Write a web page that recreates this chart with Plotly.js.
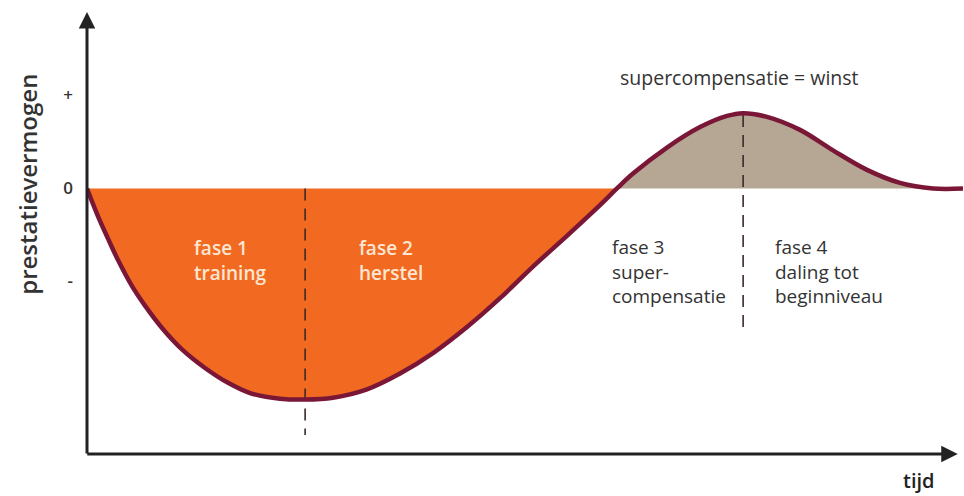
<!DOCTYPE html>
<html>
<head>
<meta charset="utf-8">
<script src="https://cdn.plot.ly/plotly-3.0.1.min.js"></script>
<style>html,body{margin:0;padding:0;background:#fff;}#chart{width:964px;height:496px;}</style>
</head>
<body>
<div id="chart"></div>
<script>
// Curve (time in arbitrary units, performance in units of the "+" tick)
const tijd      = [0, 1.26, 2.40, 3.54, 5.14, 6.62, 8.56, 10.84, 13.47, 16.10, 18.61, 22.03, 24.89, 28.08, 31.96, 35.73, 39.50, 43.38, 47.15, 50.91, 54.79, 58.56, 60.50, 62.33, 66.21, 69.98, 73.06, 74.89, 77.63, 81.39, 85.16, 89.04, 92.81, 96.58, 100];
const prestatie = [0, -0.30, -0.54, -0.77, -1.05, -1.26, -1.50, -1.73, -1.93, -2.09, -2.20, -2.26, -2.27, -2.25, -2.16, -1.99, -1.77, -1.49, -1.18, -0.84, -0.51, -0.18, 0, 0.16, 0.44, 0.66, 0.78, 0.81, 0.77, 0.63, 0.41, 0.20, 0.06, 0, 0];
const nulpunt = 60.50;              // where the curve crosses zero again
// Phase boundary dashed lines: x, top, bottom
const grensX    = [24.9, 74.9];
const grensTop  = [0, 0.79];
const grensBodem= [-2.65, -1.52];
// Tick labels
const tickWaarden = [-1, 0, 1];
const tickTeksten = ['-', '0', '+'];
// Phase labels
const faseTeksten = ['fase 1<br>training', 'fase 2<br>herstel', 'fase 3<br>super-<br>compensatie', 'fase 4<br>daling tot<br>beginniveau'];
const faseX = [12.0, 30.8, 59.7, 78.3];
const faseY = [-0.77, -0.77, -0.89, -0.89];

const oranjeX = [], oranjeY = [], beigeX = [], beigeY = [];
tijd.forEach((t, i) => {
  if (t <= nulpunt) { oranjeX.push(t); oranjeY.push(prestatie[i]); }
  if (t >= nulpunt) { beigeX.push(t); beigeY.push(prestatie[i]); }
});

const smooth = 1;
const traces = [
  {x: oranjeX, y: oranjeY, type: 'scatter', mode: 'lines', fill: 'tozeroy', fillcolor: '#f26a21',
   line: {width: 0, shape: 'spline', smoothing: smooth}, hoverinfo: 'skip'},
  {x: beigeX, y: beigeY, type: 'scatter', mode: 'lines', fill: 'tozeroy', fillcolor: '#b5a794',
   line: {width: 0, shape: 'spline', smoothing: smooth}, hoverinfo: 'skip'},
];
grensX.forEach((gx, i) => {
  traces.push({x: [gx, gx], y: [grensTop[i], grensBodem[i]], type: 'scatter', mode: 'lines',
    line: {color: '#3d2a2a', width: 1.6, dash: '12px,8px'}, hoverinfo: 'skip'});
});
traces.push({x: tijd, y: prestatie, type: 'scatter', mode: 'lines',
  line: {color: '#7b1736', width: 4.5, shape: 'spline', smoothing: smooth}, hoverinfo: 'skip'});

const fontFam = '"Open Sans", "Noto Sans", sans-serif';
const annotations = [];
faseTeksten.forEach((t, i) => {
  annotations.push({x: faseX[i], y: faseY[i], xref: 'x', yref: 'y', text: t, showarrow: false,
    xanchor: 'left', yanchor: 'middle', align: 'left',
    font: {family: fontFam, size: 19, weight: i < 2 ? 600 : 400, color: i < 2 ? '#fde6d2' : '#333333'}});
});
annotations.push({x: 60.6, y: 1.19, xref: 'x', yref: 'y', text: 'supercompensatie = winst', showarrow: false,
  xanchor: 'left', yanchor: 'middle', font: {family: fontFam, size: 19.5, color: '#333333'}});
annotations.push({x: 0.929, y: -0.058, xref: 'paper', yref: 'paper', text: 'tijd', showarrow: false,
  xanchor: 'left', yanchor: 'middle', font: {family: fontFam, size: 20, weight: 600, color: '#222222'}});
annotations.push({x: -0.0674, y: 0.05, xref: 'paper', yref: 'y', text: 'prestatievermogen', showarrow: false,
  textangle: -90, xanchor: 'center', yanchor: 'middle', font: {family: fontFam, size: 24, weight: 600, color: '#333333'}});
// axis arrows
annotations.push({x: 99.4, y: -2.855, xref: 'x', yref: 'y', text: '', showarrow: true, axref: 'pixel', ayref: 'pixel',
  ax: -872, ay: 0, arrowhead: 2, arrowsize: 1.1, arrowwidth: 3, arrowcolor: '#222222', standoff: 0});
annotations.push({x: 0, y: 1.898, xref: 'x', yref: 'y', text: '', showarrow: true, axref: 'pixel', ayref: 'pixel',
  ax: 0, ay: 443, arrowhead: 2, arrowsize: 1.1, arrowwidth: 3, arrowcolor: '#222222', standoff: 0});

const layout = {
  width: 964, height: 496,
  margin: {l: 87, r: 1, t: 10, b: 41},
  paper_bgcolor: '#ffffff', plot_bgcolor: '#ffffff',
  showlegend: false,
  xaxis: {range: [0, 100], showgrid: false, zeroline: false, showline: false, showticklabels: false, ticks: ''},
  yaxis: {range: [-2.866, 1.919], showgrid: false, zeroline: false, showline: false, ticks: '',
    tickvals: tickWaarden, ticktext: tickTeksten, ticklabelstandoff: 13,
    tickfont: {family: fontFam, size: 17, weight: 600, color: '#333333'}},
  annotations: annotations
};

Plotly.newPlot('chart', traces, layout, {displayModeBar: false, staticPlot: true});
</script>
</body>
</html>
